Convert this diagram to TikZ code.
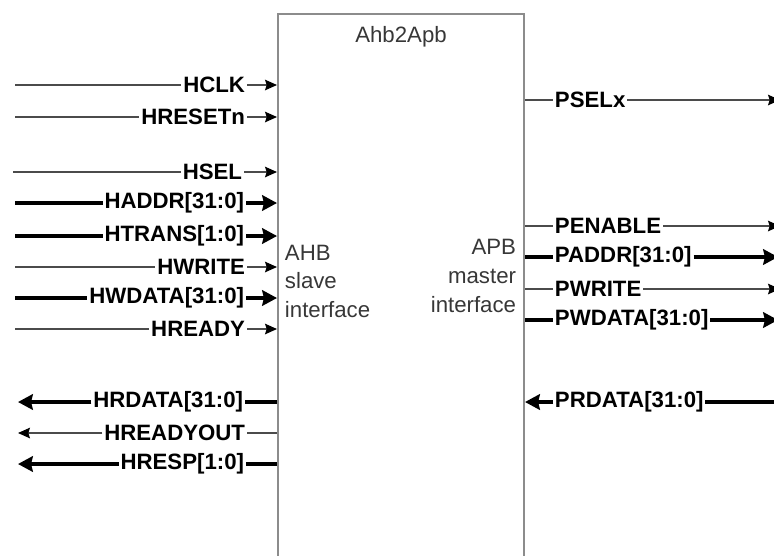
\documentclass[tikz,border=0pt]{standalone}
\usepackage{fontspec}
\setmainfont{Liberation Sans}
\usepackage{xcolor}
\usetikzlibrary{arrows.meta,positioning}
\definecolor{boxGray}{RGB}{140,140,140}
\definecolor{txtGray}{RGB}{55,55,55}
\definecolor{wireGray}{RGB}{75,75,75}

\begin{document}
\begin{tikzpicture}[x=0.025cm, y=-0.025cm,
  font=\fontsize{15.8}{20.3}\selectfont,
  sig/.style={font=\fontsize{15.8}{18}\selectfont\bfseries, inner sep=1.2pt},
  wire/.style={line width=0.9pt, wireGray},
  bus/.style={line width=2.4pt, black},
  wireTip/.style={-{Stealth[length=8.5pt, width=7.5pt, inset=1.2pt, black]}},
  busTip/.style={-{Stealth[length=10.5pt, width=11pt, inset=1.2pt]}}]
\useasboundingbox (0,0) rectangle (774,555);

% the bridge block, running off the bottom
\node[draw=boxGray, line width=1.4pt, anchor=north west, inner sep=0pt,
  minimum width=6.15cm, minimum height=15cm] (bridge) at (277,13) {};
\node[txtGray, below=6pt of bridge.north] (title) {Ahb2Apb};
\node[txtGray, align=left, anchor=west] (ahbSide) at (280,281) {AHB\\slave\\interface};
\node[txtGray, align=right, anchor=east] (apbSide) at (521,276) {APB\\master\\interface};

% AHB inputs
\coordinate (hclkIn) at (15,85);
\node[sig, anchor=east] (hclk) at (247,85) {HCLK};
\draw[wire] (hclkIn) -- (hclk);
\draw[wire, wireTip] (hclk) -- (hclk -| bridge.west);

\coordinate (hresetnIn) at (15,117);
\node[sig, anchor=east] (hresetn) at (247,117) {HRESETn};
\draw[wire] (hresetnIn) -- (hresetn);
\draw[wire, wireTip] (hresetn) -- (hresetn -| bridge.west);

\coordinate (hselIn) at (13,172);
\node[sig, anchor=east] (hsel) at (244,172) {HSEL};
\draw[wire] (hselIn) -- (hsel);
\draw[wire, wireTip] (hsel) -- (hsel -| bridge.west);

\coordinate (haddrIn) at (15,203);
\node[sig, anchor=east] (haddr) at (246,203) {HADDR[31:0]};
\draw[bus] (haddrIn) -- (haddr);
\draw[bus, busTip] (haddr) -- (haddr -| bridge.west);

\coordinate (htransIn) at (15,236);
\node[sig, anchor=east] (htrans) at (246,236) {HTRANS[1:0]};
\draw[bus] (htransIn) -- (htrans);
\draw[bus, busTip] (htrans) -- (htrans -| bridge.west);

\coordinate (hwriteIn) at (15,267);
\node[sig, anchor=east] (hwrite) at (247,267) {HWRITE};
\draw[wire] (hwriteIn) -- (hwrite);
\draw[wire, wireTip] (hwrite) -- (hwrite -| bridge.west);

\coordinate (hwdataIn) at (15,298);
\node[sig, anchor=east] (hwdata) at (246,298) {HWDATA[31:0]};
\draw[bus] (hwdataIn) -- (hwdata);
\draw[bus, busTip] (hwdata) -- (hwdata -| bridge.west);

\coordinate (hreadyIn) at (15,329);
\node[sig, anchor=east] (hready) at (247,329) {HREADY};
\draw[wire] (hreadyIn) -- (hready);
\draw[wire, wireTip] (hready) -- (hready -| bridge.west);

% AHB outputs
\coordinate (hrdataOut) at (18,402);
\node[sig, anchor=east] (hrdata) at (245,402) {HRDATA[31:0]};
\draw[bus] (hrdata -| bridge.west) -- (hrdata);
\draw[bus, busTip] (hrdata) -- (hrdataOut);

\coordinate (hreadyoutOut) at (18,433);
\node[sig, anchor=east] (hreadyout) at (247,433) {HREADYOUT};
\draw[wire] (hreadyout -| bridge.west) -- (hreadyout);
\draw[wire, wireTip] (hreadyout) -- (hreadyoutOut);

\coordinate (hrespOut) at (18,464);
\node[sig, anchor=east] (hresp) at (246,464) {HRESP[1:0]};
\draw[bus] (hresp -| bridge.west) -- (hresp);
\draw[bus, busTip] (hresp) -- (hrespOut);

% APB outputs
\coordinate (pselxOut) at (780,100);
\node[sig, anchor=west] (pselx) at (553,100) {PSELx};
\draw[wire] (pselx -| bridge.east) -- (pselx);
\draw[wire, wireTip] (pselx) -- (pselxOut);

\coordinate (penableOut) at (780,226);
\node[sig, anchor=west] (penable) at (553,226) {PENABLE};
\draw[wire] (penable -| bridge.east) -- (penable);
\draw[wire, wireTip] (penable) -- (penableOut);

\coordinate (paddrOut) at (778,257);
\node[sig, anchor=west] (paddr) at (553,257) {PADDR[31:0]};
\draw[bus] (paddr -| bridge.east) -- (paddr);
\draw[bus, busTip] (paddr) -- (paddrOut);

\coordinate (pwriteOut) at (780,289);
\node[sig, anchor=west] (pwrite) at (553,289) {PWRITE};
\draw[wire] (pwrite -| bridge.east) -- (pwrite);
\draw[wire, wireTip] (pwrite) -- (pwriteOut);

\coordinate (pwdataOut) at (778,320);
\node[sig, anchor=west] (pwdata) at (553,320) {PWDATA[31:0]};
\draw[bus] (pwdata -| bridge.east) -- (pwdata);
\draw[bus, busTip] (pwdata) -- (pwdataOut);

% APB input
\coordinate (prdataIn) at (774,402);
\node[sig, anchor=west] (prdata) at (553,402) {PRDATA[31:0]};
\draw[bus] (prdataIn) -- (prdata);
\draw[bus, busTip] (prdata) -- (prdata -| bridge.east);
\end{tikzpicture}
\end{document}
